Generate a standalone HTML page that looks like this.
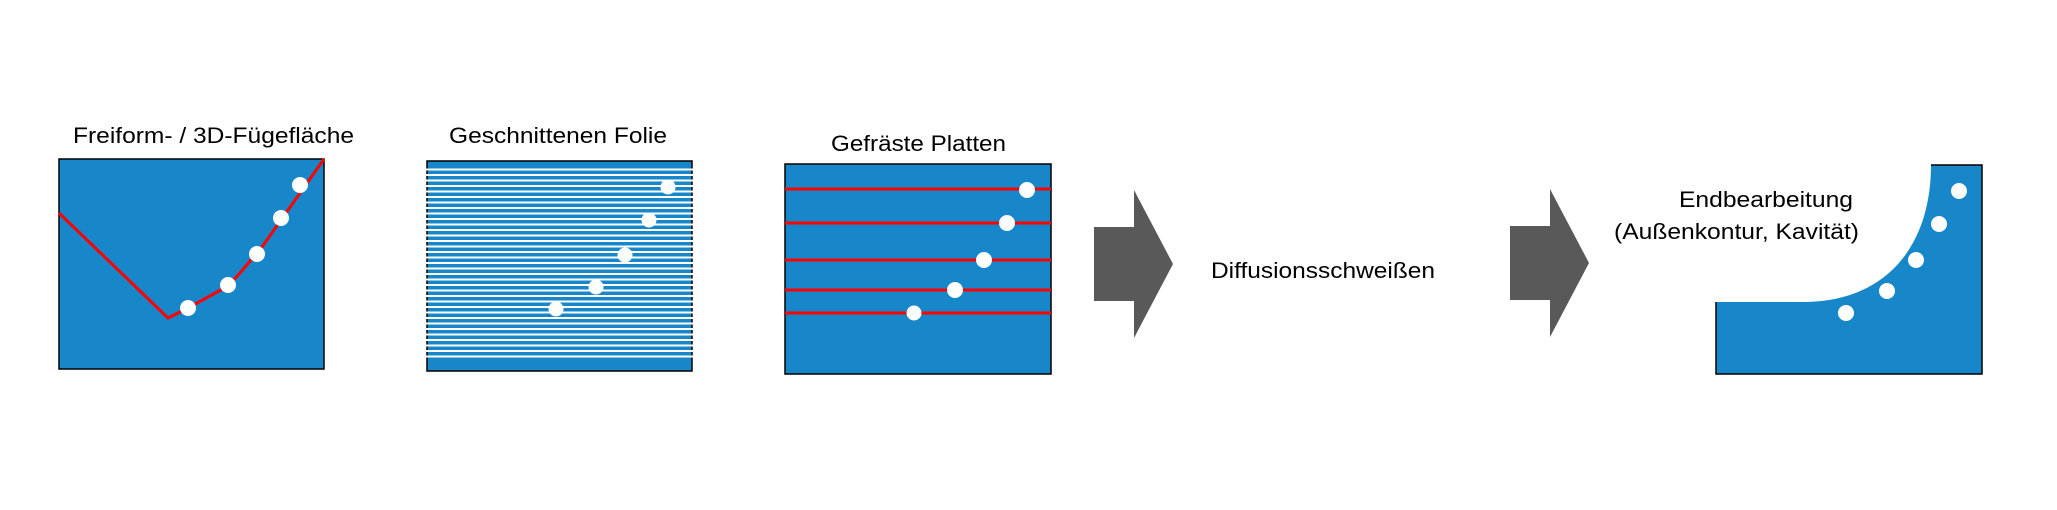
<!DOCTYPE html>
<html>
<head>
<meta charset="utf-8">
<style>
  html, body { margin: 0; padding: 0; background: #ffffff; }
  svg { display: block; }
  text { font-family: "Liberation Sans", "DejaVu Sans", sans-serif; font-size: 22px; fill: #000; }
</style>
</head>
<body>
<svg width="2057" height="510" viewBox="0 0 2057 510" xmlns="http://www.w3.org/2000/svg">
  <rect x="0" y="0" width="2057" height="510" fill="#ffffff"/>

  <!-- Panel 1 -->
  <text x="73" y="143" textLength="281" lengthAdjust="spacingAndGlyphs">Freiform- / 3D-Fügefläche</text>
  <rect x="59" y="159" width="265" height="210" fill="#1787c9" stroke="#000" stroke-width="1.5"/>
  <polyline points="59,213 168,318 188,308 228,286 240,273 262,247 324,159" fill="none" stroke="#ff0000" stroke-width="3" stroke-linejoin="miter"/>
  <g fill="#ffffff">
    <circle cx="188" cy="308" r="8"/>
    <circle cx="228" cy="285" r="8"/>
    <circle cx="257" cy="254" r="8"/>
    <circle cx="281" cy="218" r="8"/>
    <circle cx="300" cy="185" r="8"/>
  </g>

  <!-- Panel 2 -->
  <text x="449" y="143" textLength="218" lengthAdjust="spacingAndGlyphs">Geschnittenen Folie</text>
  <rect x="427" y="161" width="265" height="210" fill="#1787c9" stroke="#000" stroke-width="1.5"/>
  <g fill="#ffffff">
    <rect x="426" y="168.5" width="267" height="2"/>
    <rect x="426" y="174" width="267" height="2"/>
    <rect x="426" y="179.5" width="267" height="2"/>
    <rect x="426" y="185" width="267" height="2"/>
    <rect x="426" y="190.5" width="267" height="2"/>
    <rect x="426" y="196" width="267" height="2"/>
    <rect x="426" y="201.5" width="267" height="2"/>
    <rect x="426" y="207" width="267" height="2"/>
    <rect x="426" y="212.5" width="267" height="2"/>
    <rect x="426" y="218" width="267" height="2"/>
    <rect x="426" y="223.5" width="267" height="2"/>
    <rect x="426" y="229" width="267" height="2"/>
    <rect x="426" y="234.5" width="267" height="2"/>
    <rect x="426" y="240" width="267" height="2"/>
    <rect x="426" y="245.5" width="267" height="2"/>
    <rect x="426" y="251" width="267" height="2"/>
    <rect x="426" y="256.5" width="267" height="2"/>
    <rect x="426" y="262" width="267" height="2"/>
    <rect x="426" y="267.5" width="267" height="2"/>
    <rect x="426" y="273" width="267" height="2"/>
    <rect x="426" y="278.5" width="267" height="2"/>
    <rect x="426" y="284" width="267" height="2"/>
    <rect x="426" y="289.5" width="267" height="2"/>
    <rect x="426" y="295" width="267" height="2"/>
    <rect x="426" y="300.5" width="267" height="2"/>
    <rect x="426" y="306" width="267" height="2"/>
    <rect x="426" y="311.5" width="267" height="2"/>
    <rect x="426" y="317" width="267" height="2"/>
    <rect x="426" y="322.5" width="267" height="2"/>
    <rect x="426" y="328" width="267" height="2"/>
    <rect x="426" y="333.5" width="267" height="2"/>
    <rect x="426" y="339" width="267" height="2"/>
    <rect x="426" y="344.5" width="267" height="2"/>
    <rect x="426" y="350" width="267" height="2"/>
    <rect x="426" y="355.5" width="267" height="2"/>
  </g>
  <g fill="#ffffff">
    <circle cx="668" cy="187" r="7.5"/>
    <circle cx="649" cy="220" r="7.5"/>
    <circle cx="625" cy="255" r="7.5"/>
    <circle cx="596" cy="287" r="7.5"/>
    <circle cx="556" cy="309" r="7.5"/>
  </g>

  <!-- Panel 3 -->
  <text x="831" y="151" textLength="175" lengthAdjust="spacingAndGlyphs">Gefräste Platten</text>
  <rect x="785" y="164" width="266" height="210" fill="#1787c9" stroke="#000" stroke-width="1.5"/>
  <g stroke="#ff0000" stroke-width="3">
    <line x1="785" y1="189" x2="1051" y2="189"/>
    <line x1="785" y1="223" x2="1051" y2="223"/>
    <line x1="785" y1="260" x2="1051" y2="260"/>
    <line x1="785" y1="290" x2="1051" y2="290"/>
    <line x1="785" y1="313" x2="1051" y2="313"/>
  </g>
  <g fill="#ffffff">
    <circle cx="1027" cy="190" r="8"/>
    <circle cx="1007" cy="223" r="8"/>
    <circle cx="984" cy="260" r="8"/>
    <circle cx="955" cy="290" r="8"/>
    <circle cx="914" cy="313" r="7.5"/>
  </g>

  <!-- Arrow 1 -->
  <polygon points="1094,227 1134,227 1134,190 1173,264 1134,338 1134,301 1094,301" fill="#595959"/>

  <!-- Middle label -->
  <text x="1211" y="278" textLength="224" lengthAdjust="spacingAndGlyphs">Diffusionsschweißen</text>

  <!-- Arrow 2 -->
  <polygon points="1510,226 1550,226 1550,189 1589,263 1550,337 1550,300 1510,300" fill="#595959"/>

  <!-- Panel 5 -->
  <text x="1679" y="207" textLength="174" lengthAdjust="spacingAndGlyphs">Endbearbeitung</text>
  <text x="1614" y="239" textLength="245" lengthAdjust="spacingAndGlyphs">(Außenkontur, Kavität)</text>
  <path d="M1716,302 L1803,302 C1886,302 1931,246 1931,165 L1982,165 L1982,374 L1716,374 Z" fill="#1787c9"/>
  <polyline points="1931,165 1982,165 1982,374 1716,374 1716,302" fill="none" stroke="#000" stroke-width="1.5"/>
  <g fill="#ffffff">
    <circle cx="1959" cy="191" r="8"/>
    <circle cx="1939" cy="224" r="8"/>
    <circle cx="1916" cy="260" r="8"/>
    <circle cx="1887" cy="291" r="8"/>
    <circle cx="1846" cy="313" r="8"/>
  </g>
</svg>
</body>
</html>
